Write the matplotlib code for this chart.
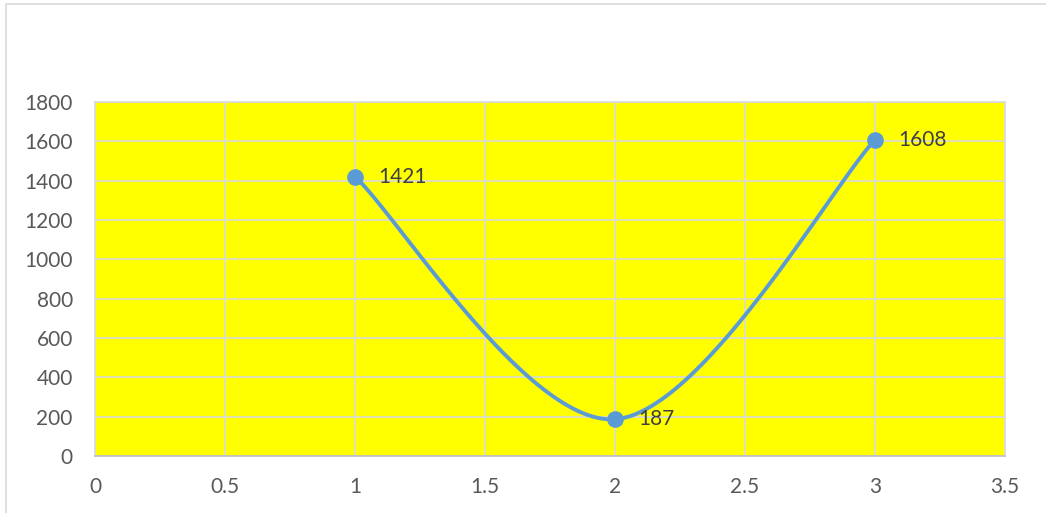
import numpy as np
import matplotlib
matplotlib.use("Agg")
import matplotlib.pyplot as plt
from matplotlib.patches import Rectangle

x_vals = [1, 2, 3]
y_vals = [1421, 187, 1608]
x_ticks = [0, 0.5, 1, 1.5, 2, 2.5, 3, 3.5]
y_ticks = [0, 200, 400, 600, 800, 1000, 1200, 1400, 1600, 1800]

plt.rcParams['font.family'] = ['Lato', 'DejaVu Sans']

LINE = '#5B9BD5'
GRID = '#D9D9D9'
FS = 15


def smooth_curve(xs, ys, n=60):
    """Bezier smoothing through the points, Excel style (tension 1/6)."""
    pts = np.column_stack([xs, ys]).astype(float)
    out = []
    for i in range(len(pts) - 1):
        p0 = pts[i - 1] if i > 0 else pts[i]
        p1 = pts[i]
        p2 = pts[i + 1]
        p3 = pts[i + 2] if i + 2 < len(pts) else pts[i + 1]
        c1 = p1 + (p2 - p0) / 6.0
        c2 = p2 - (p3 - p1) / 6.0
        t = np.linspace(0, 1, n)[:, None]
        seg = ((1 - t) ** 3) * p1 + 3 * ((1 - t) ** 2) * t * c1 + 3 * (1 - t) * t ** 2 * c2 + t ** 3 * p2
        out.append(seg if i == 0 else seg[1:])
    curve = np.vstack(out)
    return curve[:, 0], curve[:, 1]


fig = plt.figure(figsize=(10.46, 5.13), dpi=100)
fig.patches.append(Rectangle((5.5 / 1046, -0.1), 1.2, (513 - 4.5) / 513 + 0.1,
                             transform=fig.transFigure, fill=False,
                             edgecolor=GRID, linewidth=1.2))

ax = fig.add_axes([95 / 1046, 57 / 513, 910 / 1046, 354 / 513])
ax.set_facecolor('#FFFF00')
ax.set_xlim(0, 3.5)
ax.set_ylim(0, 1800)
ax.set_xticks(x_ticks)
ax.set_yticks(y_ticks)
ax.set_xticklabels([f"{v:g}" for v in x_ticks])
ax.set_yticklabels([str(v) for v in y_ticks])
ax.grid(True, color=GRID, linewidth=1.2)
ax.set_axisbelow(True)
for side in ['top', 'right', 'left']:
    ax.spines[side].set_color(GRID)
    ax.spines[side].set_linewidth(1.2)
ax.spines['bottom'].set_color('#BFBFBF')
ax.spines['bottom'].set_linewidth(1.2)
ax.tick_params(axis='both', length=0, labelsize=FS, colors='#595959')
ax.tick_params(axis='y', pad=16)
ax.tick_params(axis='x', pad=15)

cx, cy = smooth_curve(x_vals, y_vals)
ax.plot(cx, cy, color=LINE, linewidth=2.8, solid_capstyle='round', zorder=3)
ax.plot(x_vals, y_vals, 'o', color=LINE, markersize=11, zorder=4)

for xv, yv in zip(x_vals, y_vals):
    ax.annotate(str(yv), (xv, yv), xytext=(17, 0), textcoords='offset points',
                ha='left', va='center', fontsize=FS, color='#404040', zorder=5)

fig.savefig('out.png', dpi=100)
